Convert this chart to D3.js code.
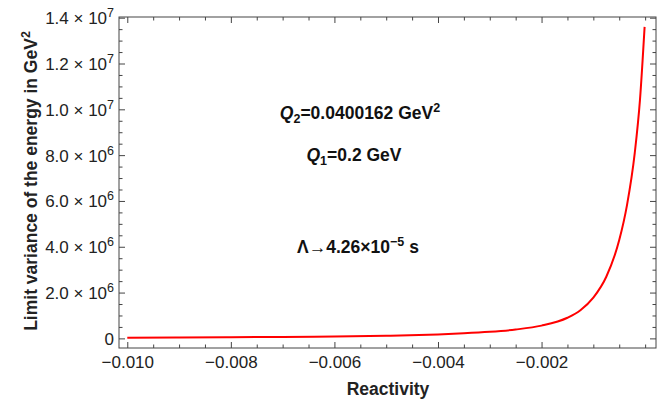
<!DOCTYPE html>
<html lang="en">
<head>
<meta charset="UTF-8">
<title>Limit variance vs reactivity</title>
<script src="https://d3js.org/d3.v7.min.js"></script>
<style>
    body, html { margin: 0; padding: 0; background: #fff; }
    text { font-family: "Liberation Sans", Arial, sans-serif; }
</style>
</head>
<body>
<div id="chart"></div>
<script>
    // values (variance in GeV^2)
    const rho = [-0.010, -0.009, -0.008, -0.007, -0.006, -0.005, -0.004, -0.0035, -0.003,
        -0.0025, -0.002, -0.0015, -0.00125, -0.001, -0.00075, -0.0005, -0.00035,
        -0.0002, -0.0001, -0.00001];
    const variance = [0.032e6, 0.039e6, 0.049e6, 0.063e6, 0.083e6, 0.116e6, 0.174e6, 0.219e6, 0.285e6,
        0.387e6, 0.556e6, 0.90e6, 1.23e6, 1.78e6, 2.69e6, 4.29e6, 5.82e6,
        8.1e6, 10.4e6, 13.6e6];

    const xTicks = [-0.010, -0.008, -0.006, -0.004, -0.002];
    const xTickLabels = ["\u22120.010", "\u22120.008", "\u22120.006", "\u22120.004", "\u22120.002"];
    const yTicks = [0, 2e6, 4e6, 6e6, 8e6, 10e6, 12e6, 14e6];
    const yTickMantissa = ["0", "2.0", "4.0", "6.0", "8.0", "1.0", "1.2", "1.4"];
    const yTickExponent = ["", "6", "6", "6", "6", "7", "7", "7"];

    const width = 665, height = 403;
    const plotL = 119, plotR = 656, plotT = 17, plotB = 348;

    const svg = d3.select("#chart").append("svg")
        .attr("width", width)
        .attr("height", height);

    const x = d3.scaleLinear().domain([-0.01016, 0.00021]).range([plotL, plotR]);
    const y = d3.scaleLinear().domain([-0.42e6, 14.03e6]).range([plotB, plotT]);

    const xMinor = d3.range(-0.010, 0.0001, 0.0005).filter(v => !xTicks.some(t => Math.abs(t - v) < 1e-9));
    const yMinor = d3.range(0, 14.01e6, 0.5e6).filter(v => v % 2e6 !== 0);

    const frameColor = "#444";

    function styleAxis(g) {
        g.select(".domain").remove();
        g.selectAll(".tick line").attr("stroke", frameColor);
        g.selectAll(".tick text").attr("fill", "#222").style("font-size", "17px");
    }

    // bottom axis with labels
    svg.append("g")
        .attr("transform", `translate(0,${plotB})`)
        .call(d3.axisBottom(x).tickValues(xTicks).tickSize(-6).tickPadding(8)
            .tickFormat((d, i) => xTickLabels[i]))
        .call(styleAxis);
    svg.append("g")
        .attr("transform", `translate(0,${plotB})`)
        .call(d3.axisBottom(x).tickValues(xMinor).tickSize(-3.5).tickFormat(""))
        .call(styleAxis);
    // top mirror
    svg.append("g")
        .attr("transform", `translate(0,${plotT})`)
        .call(d3.axisTop(x).tickValues(xTicks).tickSize(-6).tickFormat(""))
        .call(styleAxis);
    svg.append("g")
        .attr("transform", `translate(0,${plotT})`)
        .call(d3.axisTop(x).tickValues(xMinor).tickSize(-3.5).tickFormat(""))
        .call(styleAxis);

    // left axis
    const yAxis = svg.append("g")
        .attr("transform", `translate(${plotL},0)`)
        .call(d3.axisLeft(y).tickValues(yTicks).tickSize(-6).tickFormat(""))
        .call(styleAxis);
    yAxis.selectAll(".tick").each(function (d, i) {
        const t = d3.select(this).append("text")
            .attr("x", -5)
            .attr("y", 6)
            .attr("text-anchor", "end")
            .attr("fill", "#222")
            .style("font-size", "17px");
        if (yTickExponent[i] === "") {
            t.text(yTickMantissa[i]);
        } else {
            t.append("tspan").text(yTickMantissa[i] + " \u00d7 10");
            t.append("tspan").attr("dy", -7).style("font-size", "12.5px").text(yTickExponent[i]);
        }
    });
    svg.append("g")
        .attr("transform", `translate(${plotL},0)`)
        .call(d3.axisLeft(y).tickValues(yMinor).tickSize(-3.5).tickFormat(""))
        .call(styleAxis);
    // right mirror
    svg.append("g")
        .attr("transform", `translate(${plotR},0)`)
        .call(d3.axisRight(y).tickValues(yTicks).tickSize(-6).tickFormat(""))
        .call(styleAxis);
    svg.append("g")
        .attr("transform", `translate(${plotR},0)`)
        .call(d3.axisRight(y).tickValues(yMinor).tickSize(-3.5).tickFormat(""))
        .call(styleAxis);

    // frame
    svg.append("rect")
        .attr("x", plotL).attr("y", plotT)
        .attr("width", plotR - plotL).attr("height", plotB - plotT)
        .attr("fill", "none")
        .attr("stroke", frameColor)
        .attr("stroke-width", 1);

    // curve
    const points = rho.map((r, i) => [r, variance[i]]);
    const line = d3.line()
        .x(d => x(d[0]))
        .y(d => y(d[1]))
        .curve(d3.curveMonotoneX);

    svg.append("path")
        .datum(points)
        .attr("d", line)
        .attr("fill", "none")
        .attr("stroke", "#ff0000")
        .attr("stroke-width", 2);

    // axis titles
    svg.append("text")
        .attr("x", 388)
        .attr("y", 395)
        .attr("text-anchor", "middle")
        .style("font-size", "17.5px")
        .style("font-weight", "bold")
        .attr("fill", "#222")
        .text("Reactivity");

    const yTitle = svg.append("text")
        .attr("transform", `translate(37,181) rotate(-90)`)
        .attr("text-anchor", "middle")
        .style("font-size", "17.5px")
        .style("font-weight", "bold")
        .attr("fill", "#222");
    yTitle.append("tspan").text("Limit variance of the energy in GeV");
    yTitle.append("tspan").attr("dy", -7).style("font-size", "12.5px").text("2");

    // annotations
    function note(cx, cy, parts) {
        const t = svg.append("text")
            .attr("x", cx).attr("y", cy)
            .attr("text-anchor", "middle")
            .style("font-size", "17.5px")
            .style("font-weight", "bold")
            .attr("fill", "#111");
        parts.forEach(p => {
            const s = t.append("tspan").text(p.t);
            if (p.italic) s.style("font-style", "italic");
            if (p.dy) s.attr("dy", p.dy);
            if (p.small) s.style("font-size", "12.5px");
        });
    }

    note(360, 119, [
        { t: "Q", italic: true }, { t: "2", small: true, dy: 4 },
        { t: "=0.0400162 GeV", dy: -4 }, { t: "2", small: true, dy: -7 }
    ]);
    note(354, 161, [
        { t: "Q", italic: true }, { t: "1", small: true, dy: 4 },
        { t: "=0.2 GeV", dy: -4 }
    ]);
    note(358, 253, [
        { t: "\u039b\u21924.26\u00d710" }, { t: "\u22125", small: true, dy: -7 },
        { t: " s", dy: 7 }
    ]);
</script>
</body>
</html>
